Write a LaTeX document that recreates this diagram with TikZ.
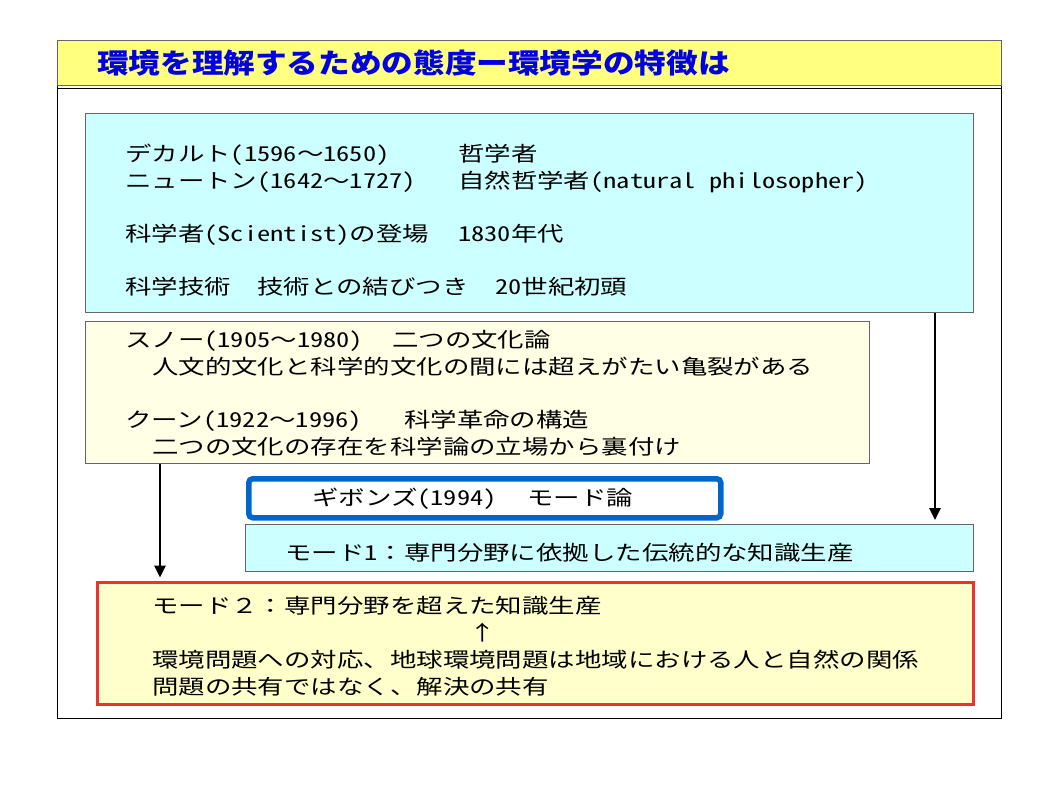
\documentclass[tikz,border=0pt]{standalone}
\usepackage{fontspec}
\usepackage{tikz}
\usetikzlibrary{calc,positioning,arrows.meta}
\newfontfamily\jpfont[FakeStretch=1.29]{Noto Sans CJK JP}
\newfontfamily\jphw[FakeStretch=1.29,RawFeature=+hwid]{Noto Sans CJK JP}
\newfontfamily\jptitle[FakeStretch=1.15]{Noto Sans CJK JP}
\newcommand{\hw}[1]{{\jphw #1}}
\definecolor{titleyellow}{RGB}{255,255,128}
\definecolor{titleblue}{RGB}{0,0,224}
\definecolor{boxcyan}{RGB}{204,255,255}
\definecolor{boxcream}{RGB}{255,255,230}
\definecolor{modeblue}{RGB}{0,102,204}
\definecolor{modered}{RGB}{235,50,50}
\definecolor{redfill}{RGB}{255,255,204}

\begin{document}
\begin{tikzpicture}[x=1pt,y=-1pt,
		box/.style={draw=gray!80!black,line width=0.8pt,inner sep=0pt,anchor=north west},
		txt/.style={inner sep=0pt,anchor=base west,font=\jpfont\fontsize{20.5}{26.5}\selectfont},
		arr/.style={line width=2.6pt,-{Triangle[length=12pt,width=11pt]}}]
		\useasboundingbox (0,0) rectangle (1059,794);

		\draw[fill=white,line width=0.8pt] (57,40) rectangle (1001,718);
		\node (title) [box,fill=titleyellow,minimum width=944pt,minimum height=45pt] at (57,40) {};
		\draw[line width=0.8pt] ([yshift=-3pt]title.south west) -- ([yshift=-3pt]title.south east);
		\node (titletxt) [anchor=base west,inner sep=0pt,text=titleblue,
			font=\jptitle\bfseries\fontsize{27.5}{30}\selectfont] at (97,74) {環境を理解するための態度ー環境学の特徴は};

		\node (cyan) [box,fill=boxcyan,minimum width=888pt,minimum height=199pt] at (85,113) {};
		\node (cream) [box,fill=boxcream,minimum width=784pt,minimum height=142pt] at (85,321) {};
		\node (gibbons) [box,draw=modeblue,fill=white,line width=5.5pt,rounded corners=4pt,
			minimum width=472pt,minimum height=39pt] at (246,476) {};
		\node (mode1) [box,fill=boxcyan,minimum width=728pt,minimum height=47pt] at (245,524) {};
		\node (mode2) [box,draw=modered,fill=redfill,line width=3.5pt,
			minimum width=876pt,minimum height=122pt] at (95.5,580.5) {};

		\coordinate (rx) at (935,0);
		\coordinate (lx) at (160,0);
		\draw[arr] (cyan.south -| rx) -- ([yshift=4pt]mode1.north -| rx);
		\draw[arr] (cream.south -| lx) -- ([yshift=3pt]mode2.north -| lx);

		\node (descartes) [txt] at (125,162) {デカルト\hw{(1596}～\hw{1650)}};
		\node (philo) [txt] at (458,162) {哲学者};
		\node (newton) [txt] at (125,188.5) {ニュートン\hw{(1642}～\hw{1727)}};
		\node (natphilo) [txt] at (458,188.5) {自然哲学者\hw{(natural philosopher)}};
		\node (scientist) [txt] at (125,241.5) {科学者\hw{(Scientist)}の登場};
		\node (y1830) [txt] at (458,241.5) {\hw{1830}年代};
		\node (technik) [txt] at (125,294.5) {科学技術　技術との結びつき　\hw{20}世紀初頭};

		\node (snow) [txt] at (125,347.5) {スノー\hw{(1905}～\hw{1980)}};
		\node (twocult) [txt] at (392,347.5) {二つの文化論};
		\node (snowtxt) [txt] at (152,374.5) {人文的文化と科学的文化の間には超えがたい亀裂がある};
		\node (kuhn) [txt] at (125,427.5) {クーン\hw{(1922}～\hw{1996)}};
		\node (revol) [txt] at (404,427.5) {科学革命の構造};
		\node (kuhntxt) [txt] at (152,454) {二つの文化の存在を科学論の立場から裏付け};

		\node (gibtxt) [txt] at (312,505.5) {ギボンズ\hw{(1994)}};
		\node (modetheory) [txt] at (527,505.5) {モード論};
		\node (mode1txt) [txt] at (285,560.5) {モード\hw{1}：専門分野に依拠した伝統的な知識生産};

		\node (mode2txt) [txt] at (152,613.5) {モード２：専門分野を超えた知識生産};
		\node (uparr) [txt,anchor=base] at (483,640.5) {↑};
		\node (envtxt) [txt] at (152,667.5) {環境問題への対応、地球環境問題は地域における人と自然の関係};
		\node (sharetxt) [txt] at (152,694) {問題の共有ではなく、解決の共有};
	\end{tikzpicture}
\end{document}
